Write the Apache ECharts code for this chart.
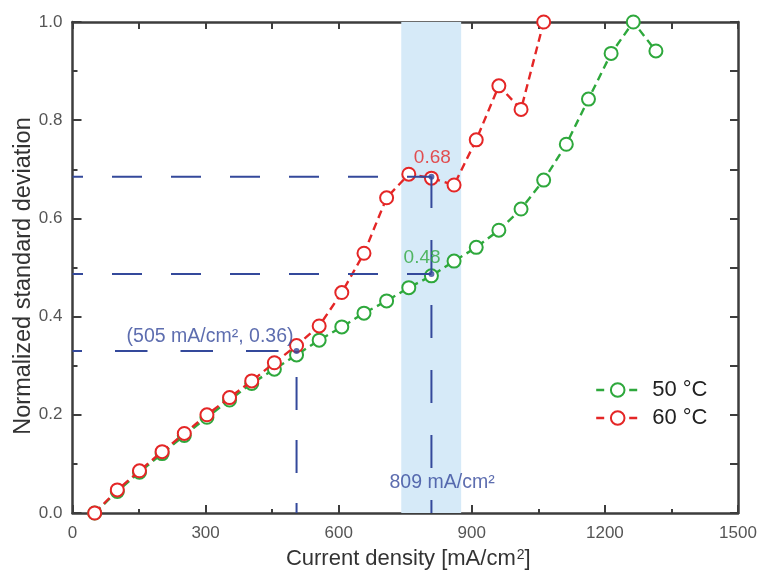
<!DOCTYPE html>
<html>
<head>
<meta charset="utf-8">
<script src="https://cdn.jsdelivr.net/npm/echarts@6/dist/echarts.min.js"></script>
<style>
html,body{margin:0;padding:0;background:#fff;}
#chart{width:760px;height:574px;}
</style>
</head>
<body>
<div id="chart"></div>
<script>
// ---- data ----
const currentDensity = [50, 101, 151, 202, 252, 303, 354, 404, 455, 505, 556, 607, 657, 708, 758, 809, 860, 910, 961, 1011, 1062, 1113, 1163, 1214, 1264, 1315];
const std50 = [0.000, 0.044, 0.083, 0.121, 0.158, 0.195, 0.230, 0.264, 0.293, 0.322, 0.352, 0.379, 0.407, 0.432, 0.459, 0.483, 0.513, 0.541, 0.576, 0.619, 0.678, 0.751, 0.843, 0.936, 1.000, 0.941];
const std60 = [0.000, 0.047, 0.086, 0.125, 0.162, 0.200, 0.235, 0.269, 0.306, 0.341, 0.381, 0.449, 0.529, 0.642, 0.690, 0.682, 0.668, 0.760, 0.870, 0.822, 1.000];
const seriesNames = ['50 °C', '60 °C'];
const xTicks = [0, 300, 600, 900, 1200, 1500];
const yTicks = [0.0, 0.2, 0.4, 0.6, 0.8, 1.0];
const bandRange = [741, 876];
// reference lines (data coordinates)
const refPoints = [[809, 0.685], [809, 0.487], [505, 0.33]];
const annotationTexts = ['0.68', '0.48', '(505 mA/cm², 0.36)', '809 mA/cm²'];
const annotationPos = [[811, 0.723], [788, 0.519], [310, 0.360], [833, 0.061]];

const FONT = '"Liberation Sans", Arial, Helvetica, sans-serif';
const AXIS = '#3d3d3d';
const BLUE = '#34499b';
const RED = '#e42626';
const GREEN = '#2ea83c';

function pairs(xs, ys) { return ys.map((y, i) => [xs[i], y]); }

const blueLine = (data, dash, offset) => ({
  type: 'line', data: data, z: 4, symbol: 'none', silent: true, clip: false,
  lineStyle: { color: BLUE, width: 2, type: dash, dashOffset: offset },
  legendHoverLink: false, tooltip: { show: false }
});

const annoColors = [RED, GREEN, BLUE, BLUE];

const option = {
  animation: false,
  textStyle: { fontFamily: FONT },
  grid: { left: 72.5, right: 22, top: 22, bottom: 61, containLabel: false, outerBoundsMode: 'none' },
  legend: {
    orient: 'vertical', left: 590, top: 374,
    itemWidth: 43, itemHeight: 17, itemGap: 6,
    textStyle: { fontSize: 22, color: '#222', fontFamily: FONT, padding: [0, 0, 0, 8] },
    data: [
      { name: seriesNames[0], lineStyle: { type: [8, 25], width: 2.4 } },
      { name: seriesNames[1], lineStyle: { type: [8, 25], width: 2.4 } }
    ]
  },
  xAxis: [
    {
      type: 'value', min: 0, max: 1500, interval: 300, position: 'bottom',
      name: '{a|Current density [mA/cm}{b|2}{a|]}',
      nameLocation: 'middle', nameGap: 35, nameMoveOverlap: false,
      nameTextStyle: {
        padding: [0, 0, 0, 6],
        rich: {
          a: { fontSize: 22, color: '#333', fontFamily: FONT },
          b: { fontSize: 14, color: '#333', fontFamily: FONT, verticalAlign: 'top', padding: [0, 0, 6, 1] }
        }
      },
      axisLine: { show: true, onZero: false, lineStyle: { color: AXIS, width: 2.5 } },
      axisTick: { show: true, inside: true, length: 8, lineStyle: { color: AXIS, width: 2 } },
      minorTick: { show: true, splitNumber: 2, length: 4, lineStyle: { color: AXIS, width: 2 } },
      axisLabel: { fontSize: 17, color: '#555', margin: 12, fontFamily: FONT, showMinLabel: true, showMaxLabel: true,
        formatter: v => xTicks.includes(v) ? String(v) : '' },
      splitLine: { show: false }
    },
    {
      type: 'value', min: 0, max: 1500, interval: 150, position: 'top',
      axisLine: { show: true, onZero: false, lineStyle: { color: AXIS, width: 2.5 } },
      axisTick: { show: true, inside: true, length: 7, lineStyle: { color: AXIS, width: 2 } },
      axisLabel: { show: false }, splitLine: { show: false }
    }
  ],
  yAxis: [
    {
      type: 'value', min: 0, max: 1, interval: 0.2, position: 'left',
      name: 'Normalized standard deviation', nameLocation: 'middle', nameGap: 37, nameMoveOverlap: false,
      nameTextStyle: { fontSize: 23.5, color: '#333', fontFamily: FONT, padding: [0, 17, 0, 0] },
      axisLine: { show: true, onZero: false, lineStyle: { color: AXIS, width: 2.5 } },
      axisTick: { show: true, inside: true, length: 9, lineStyle: { color: AXIS, width: 2 } },
      minorTick: { show: true, splitNumber: 2, length: 5, lineStyle: { color: AXIS, width: 2 } },
      axisLabel: { fontSize: 17, color: '#555', margin: 10, fontFamily: FONT,
        formatter: v => yTicks.some(t => Math.abs(t - v) < 1e-9) ? v.toFixed(1) : '' },
      splitLine: { show: false }
    },
    {
      type: 'value', min: 0, max: 1, interval: 0.1, position: 'right',
      axisLine: { show: true, onZero: false, lineStyle: { color: AXIS, width: 2.5 } },
      axisTick: { show: true, inside: true, length: 8, lineStyle: { color: AXIS, width: 2 } },
      axisLabel: { show: false }, splitLine: { show: false }
    }
  ],
  series: [
    {
      name: 'band', type: 'line', data: [], z: 0, silent: true,
      markArea: {
        silent: true,
        itemStyle: { color: '#d6eaf8', borderWidth: 0 },
        data: [[{ xAxis: bandRange[0] }, { xAxis: bandRange[1] }]]
      }
    },
    {
      name: seriesNames[0], type: 'line', data: pairs(currentDensity, std50), z: 2, clip: false,
      symbol: 'emptyCircle', symbolSize: 13,
      itemStyle: { color: GREEN, borderWidth: 2.4 },
      lineStyle: { color: GREEN, width: 2.4, type: [8, 5] }
    },
    {
      name: seriesNames[1], type: 'line', data: pairs(currentDensity, std60), z: 3, clip: false,
      symbol: 'emptyCircle', symbolSize: 13,
      itemStyle: { color: RED, borderWidth: 2.4 },
      lineStyle: { color: RED, width: 2.4, type: [8, 5] }
    },
    // reference dashed lines
    blueLine([[0, refPoints[0][1]], refPoints[0]], [30, 29], 19.5),
    blueLine([[0, refPoints[1][1]], refPoints[1]], [30, 29], 19.5),
    blueLine([[0, refPoints[2][1]], refPoints[2]], [32.5, 33], 23),
    blueLine([[refPoints[0][0], 0], refPoints[0]], [33, 32], 20),
    blueLine([[refPoints[2][0], 0], refPoints[2]], [33, 30], 23),
    {
      type: 'scatter', data: refPoints, z: 5, symbol: 'circle', symbolSize: 6, silent: true,
      itemStyle: { color: BLUE }
    },
    {
      type: 'scatter', z: 6, symbolSize: 0, silent: true,
      data: annotationPos.map((p, i) => ({
        value: p,
        label: { show: true, position: 'inside', formatter: annotationTexts[i], color: annoColors[i],
          fontSize: i < 2 ? 19 : 19.5, fontFamily: FONT }
      }))
    }
  ]
};

const chart = echarts.init(document.getElementById('chart'), null, { renderer: 'canvas' });
chart.setOption(option);
</script>
</body>
</html>
